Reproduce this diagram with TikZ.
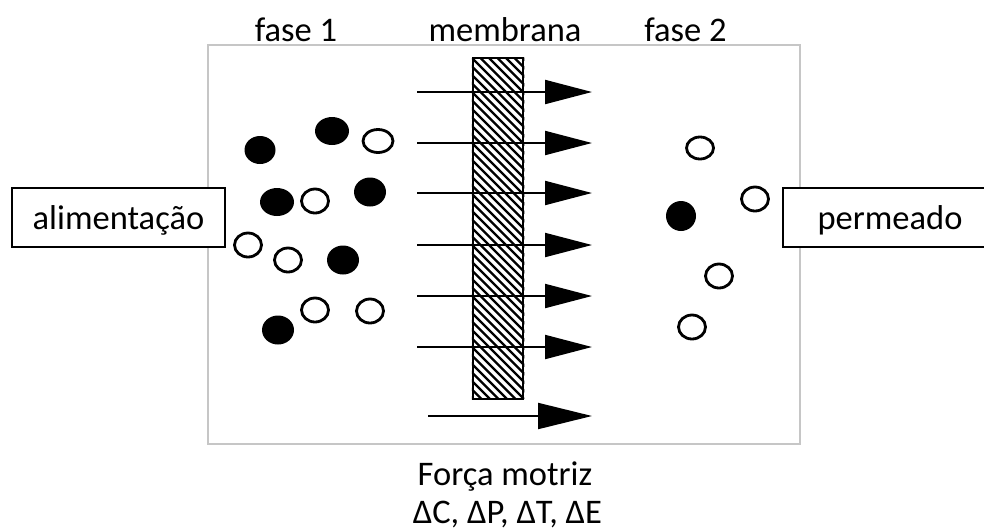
\documentclass[tikz,border=0pt]{standalone}
\usepackage{fontspec}
\setmainfont{Carlito}
\usetikzlibrary{arrows.meta,shapes.geometric}

\begin{document}
\begin{tikzpicture}[x=1pt,y=-1pt,
			font=\fontsize{34.5}{40}\selectfont,
			box/.style={draw,line width=1.5pt,fill=white,minimum width=213pt,minimum height=59pt,inner sep=0pt,text height=23pt,text depth=0pt},
			title/.style={anchor=base,inner sep=0pt},
			dot/.style={ellipse,fill=black,minimum width=32pt,minimum height=29pt,inner sep=0pt},
			ring/.style={ellipse,draw,line width=2.8pt,minimum width=27pt,minimum height=24pt,inner sep=0pt},
			flux/.style={line width=2pt,-{Triangle[length=47pt,width=24pt]}}]
			\useasboundingbox (0,0) rectangle (984,531);
			\node (frame) [draw=gray!45,line width=1.5pt,minimum width=592pt,minimum height=399pt,inner sep=0pt] at (504,244.5) {};

			\node (phase1) [title] at (296,41) {fase 1};
			\node (memlabel) [title] at (505,41) {membrana};
			\node (phase2) [title] at (685.5,41) {fase 2};

			\node (feed) [box] at (118.5,217.5) {alimentação};
			\node (perm) [box,minimum width=214pt] at (890,217.5) {permeado};

			\node (membrane) [draw,line width=2.5pt,minimum width=50pt,minimum height=341pt,inner sep=0pt] at (498,228.5) {};
			\begin{scope}
				\clip (membrane.south west) rectangle (membrane.north east);
				\foreach \c in {74,82.5,...,470}
					\draw [line width=2.3pt] (\c+58,58) -- (\c+399,399);
			\end{scope}

			\foreach \i/\y in {1/92,2/143,3/193,4/245,5/296,6/347} {
				\coordinate (in\i) at (417,\y);
				\coordinate (out\i) at (592,\y);
				\draw [flux] (in\i) -- (out\i);
			}
			\coordinate (in7) at (428,416);
			\coordinate (out7) at (592,416);
			\draw [flux,-{Triangle[length=54pt,width=26pt]}] (in7) -- (out7);

			\node (f1) [dot,minimum width=31pt,minimum height=28pt] at (260,150) {};
			\node (f2) [dot,minimum width=34pt,minimum height=28pt] at (332,131) {};
			\node (f3) [ring,minimum width=30pt,minimum height=23pt] at (378,141) {};
			\node (f4) [dot,minimum width=34pt,minimum height=28pt] at (277,202) {};
			\node (f5) [ring] at (315,201) {};
			\node (f6) [dot] at (370,192) {};
			\node (f7) [ring] at (248,245) {};
			\node (f8) [ring] at (288,260) {};
			\node (f9) [dot] at (343,260) {};
			\node (f10) [dot] at (278,330) {};
			\node (f11) [ring] at (315,310) {};
			\node (f12) [ring] at (370,311) {};

			\node (p1) [ring,minimum height=22pt] at (700,148) {};
			\node (p2) [ring] at (755,199) {};
			\node (p3) [dot,minimum width=30pt,minimum height=30pt] at (681,216) {};
			\node (p4) [ring] at (719,276) {};
			\node (p5) [ring] at (692,327) {};

			\node (force) [title] at (505,485) {Força motriz};
			\node (deltas) [title] at (507.5,523) {ΔC, ΔP, ΔT, ΔE};
		\end{tikzpicture}
\end{document}
